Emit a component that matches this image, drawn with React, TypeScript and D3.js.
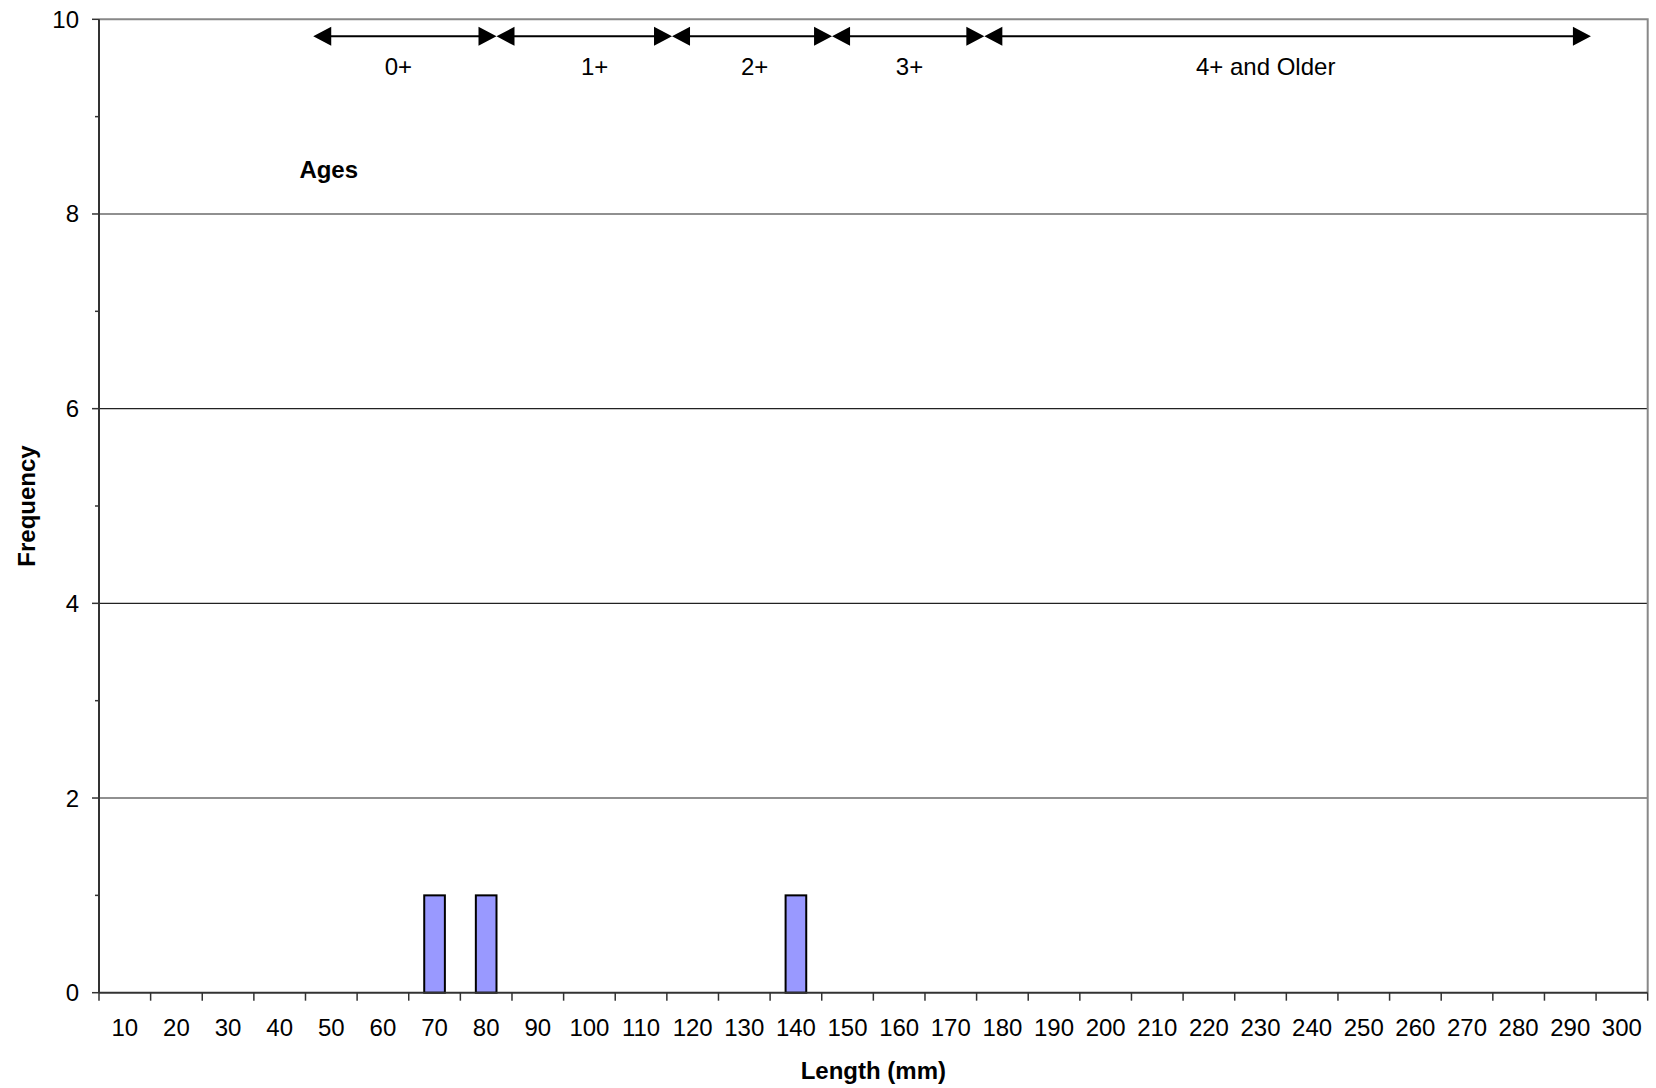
import { useEffect, useRef } from "react";
import * as d3 from "d3";

// length classes (mm) and counts
const lengthClasses = [
  10, 20, 30, 40, 50, 60, 70, 80, 90, 100, 110, 120, 130, 140, 150, 160, 170,
  180, 190, 200, 210, 220, 230, 240, 250, 260, 270, 280, 290, 300,
];
const frequencies = [
  0, 0, 0, 0, 0, 0, 1, 1, 0, 0, 0, 0, 0, 1, 0, 0, 0, 0, 0, 0, 0, 0, 0, 0, 0,
  0, 0, 0, 0, 0,
];

const yTicks = [0, 2, 4, 6, 8, 10];
const yMinorTicks = [1, 3, 5, 7, 9];

// age bands drawn as double arrows above the bars (in mm)
const ageLabels = ["0+", "1+", "2+", "3+", "4+ and Older"];
const ageStart = [46.5, 82, 116, 147, 176.5];
const ageEnd = [82, 116, 147, 176.5, 294];
const ageLabelAt = [63, 101, 132, 162, 231];

const WIDTH = 1656;
const HEIGHT = 1088;
const MARGIN = { top: 19.3, right: 8.3, bottom: 95.3, left: 99 };
const FONT = "'Liberation Sans', Arial, sans-serif";

export default function App() {
  const svgRef = useRef<SVGSVGElement>(null);

  useEffect(() => {
    if (!svgRef.current) return;
    const svg = d3.select(svgRef.current);
    svg.selectAll("*").remove();

    const w = WIDTH - MARGIN.left - MARGIN.right;
    const h = HEIGHT - MARGIN.top - MARGIN.bottom;

    const g = svg
      .append("g")
      .attr("transform", `translate(${MARGIN.left},${MARGIN.top})`);

    const x = d3
      .scaleBand<number>()
      .domain(lengthClasses)
      .range([0, w])
      .paddingInner(0.6)
      .paddingOuter(0.3);

    // continuous mm scale for the age annotations
    const xmm = d3.scaleLinear().domain([5, 305]).range([0, w]);

    const y = d3.scaleLinear().domain([0, 10]).range([h, 0]);

    // gridlines
    g.append("g")
      .selectAll("line")
      .data(yTicks.filter((d) => d > 0 && d < 10))
      .join("line")
      .attr("x1", 0)
      .attr("x2", w)
      .attr("y1", (d) => y(d))
      .attr("y2", (d) => y(d))
      .attr("stroke", "#222")
      .attr("stroke-width", 1.2);

    // plot border top/right
    g.append("path")
      .attr("d", `M0,0H${w}V${h}`)
      .attr("fill", "none")
      .attr("stroke", "#888")
      .attr("stroke-width", 2);

    // bars
    g.append("g")
      .selectAll("rect")
      .data(lengthClasses.map((c, i) => ({ c, v: frequencies[i] })).filter((d) => d.v > 0))
      .join("rect")
      .attr("x", (d) => x(d.c)!)
      .attr("width", x.bandwidth())
      .attr("y", (d) => y(d.v))
      .attr("height", (d) => h - y(d.v))
      .attr("fill", "#9999FF")
      .attr("stroke", "#000")
      .attr("stroke-width", 2);

    // y axis
    const yAxis = g.append("g");
    yAxis
      .append("line")
      .attr("x1", 0)
      .attr("x2", 0)
      .attr("y1", 0)
      .attr("y2", h)
      .attr("stroke", "#333")
      .attr("stroke-width", 2);
    yAxis
      .selectAll("line.major")
      .data(yTicks)
      .join("line")
      .attr("class", "major")
      .attr("x1", -7)
      .attr("x2", 0)
      .attr("y1", (d) => y(d))
      .attr("y2", (d) => y(d))
      .attr("stroke", "#333")
      .attr("stroke-width", 1.5);
    yAxis
      .selectAll("line.minor")
      .data(yMinorTicks)
      .join("line")
      .attr("class", "minor")
      .attr("x1", -4)
      .attr("x2", 0)
      .attr("y1", (d) => y(d))
      .attr("y2", (d) => y(d))
      .attr("stroke", "#333")
      .attr("stroke-width", 1.5);
    yAxis
      .selectAll("text")
      .data(yTicks)
      .join("text")
      .attr("x", -20)
      .attr("y", (d) => y(d) + 8.5)
      .attr("text-anchor", "end")
      .attr("font-family", FONT)
      .attr("font-size", 24)
      .attr("fill", "#000")
      .text((d) => d);

    // x axis
    const xAxis = g.append("g").attr("transform", `translate(0,${h})`);
    xAxis
      .append("line")
      .attr("x1", 0)
      .attr("x2", w)
      .attr("stroke", "#333")
      .attr("stroke-width", 2);
    xAxis
      .selectAll("line.tick")
      .data(d3.range(lengthClasses.length + 1))
      .join("line")
      .attr("class", "tick")
      .attr("x1", (i) => i * x.step())
      .attr("x2", (i) => i * x.step())
      .attr("y1", 0)
      .attr("y2", 8)
      .attr("stroke", "#333")
      .attr("stroke-width", 1.5);
    xAxis
      .selectAll("text")
      .data(lengthClasses)
      .join("text")
      .attr("x", (d) => x(d)! + x.bandwidth() / 2)
      .attr("y", 43)
      .attr("text-anchor", "middle")
      .attr("font-family", FONT)
      .attr("font-size", 24)
      .attr("fill", "#000")
      .text((d) => d);

    // axis titles
    g.append("text")
      .attr("x", w / 2)
      .attr("y", h + 86)
      .attr("text-anchor", "middle")
      .attr("font-family", FONT)
      .attr("font-size", 24)
      .attr("font-weight", "bold")
      .text("Length (mm)");

    g.append("text")
      .attr("transform", `translate(${-MARGIN.left + 35},${h / 2}) rotate(-90)`)
      .attr("text-anchor", "middle")
      .attr("font-family", FONT)
      .attr("font-size", 24)
      .attr("font-weight", "bold")
      .text("Frequency");

    // age annotations
    const arrowY = y(9.825);
    const headLen = 18;
    const headHalf = 9.5;
    const ages = g.append("g");
    ageLabels.forEach((label, i) => {
      const x1 = xmm(ageStart[i]);
      const x2 = xmm(ageEnd[i]);
      ages
        .append("line")
        .attr("x1", x1 + headLen - 2)
        .attr("x2", x2 - headLen + 2)
        .attr("y1", arrowY)
        .attr("y2", arrowY)
        .attr("stroke", "#000")
        .attr("stroke-width", 2);
      ages
        .append("path")
        .attr(
          "d",
          `M${x1},${arrowY}L${x1 + headLen},${arrowY - headHalf}L${x1 + headLen},${arrowY + headHalf}Z` +
            `M${x2},${arrowY}L${x2 - headLen},${arrowY - headHalf}L${x2 - headLen},${arrowY + headHalf}Z`
        )
        .attr("fill", "#000");
      ages
        .append("text")
        .attr("x", xmm(ageLabelAt[i]))
        .attr("y", y(9.51) + 8.5)
        .attr("text-anchor", "middle")
        .attr("font-family", FONT)
        .attr("font-size", 24)
        .text(label);
    });

    g.append("text")
      .attr("x", xmm(49.5))
      .attr("y", y(8.46) + 8.5)
      .attr("text-anchor", "middle")
      .attr("font-family", FONT)
      .attr("font-size", 24)
      .attr("font-weight", "bold")
      .text("Ages");
  }, []);

  return (
    <svg
      ref={svgRef}
      width={WIDTH}
      height={HEIGHT}
      style={{ position: "absolute", left: 0, top: 0, background: "#fff" }}
    />
  );
}
